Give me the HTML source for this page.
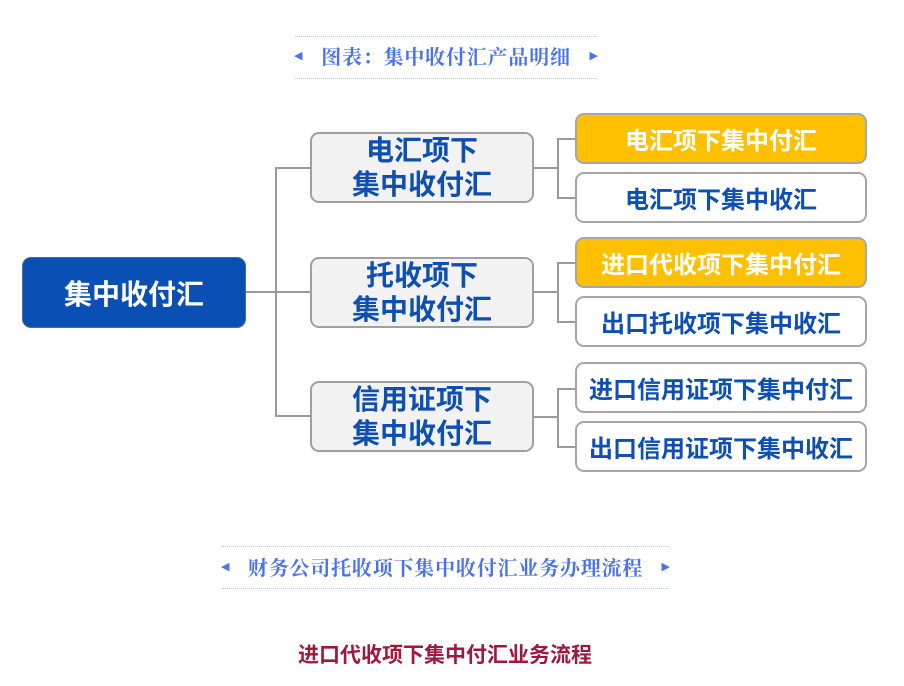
<!DOCTYPE html>
<html><head><meta charset="utf-8"><style>
body{margin:0;background:#fff;width:904px;height:686px;position:relative;overflow:hidden;font-family:"Liberation Sans","Noto Sans CJK SC",sans-serif}
.b{position:absolute;box-sizing:border-box;border-radius:9px;display:flex;align-items:center;justify-content:center;text-align:center;font-weight:bold;color:#0d4fb3}
.root{left:22px;top:257px;width:224px;height:71px;background:#0a4fb4;border:1px solid #4a6a9a;color:#fff;font-size:28px}
.mid{left:310px;width:224px;height:71px;background:#f2f2f2;border:2px solid #a0a0a0;font-size:28px;line-height:34px}
.leaf{left:575px;width:292px;height:51px;background:#fff;border:2px solid #a6a6a6;font-size:24px}
.gold{background:#ffc000;color:#fff}
.l{position:absolute;background:#9a9a9a}
.cap{position:absolute;font-family:"Liberation Serif","Noto Serif CJK SC",serif;font-weight:bold;color:#4a72ea;font-size:20px;letter-spacing:0.8px;display:flex;align-items:center;justify-content:space-between}
.dot{position:absolute;border-top:1px dotted #b8c4ee;height:0}
.tri{font-size:11px;color:#4a72ea;font-family:"DejaVu Sans",sans-serif;letter-spacing:0}
</style></head><body>
<div class="dot" style="left:295px;top:36px;width:301px"></div>
<div class="dot" style="left:295px;top:78px;width:301px"></div>
<div class="cap" style="left:294px;top:43px;width:304px;height:24px"><span class="tri">◀</span><span>图表：集中收付汇产品明细</span><span class="tri">▶</span></div>

<div class="l" style="left:245px;top:291px;width:65px;height:2px"></div>
<div class="l" style="left:275px;top:167px;width:2px;height:250px"></div>
<div class="l" style="left:275px;top:167px;width:35px;height:2px"></div>
<div class="l" style="left:275px;top:415px;width:35px;height:2px"></div>

<div class="l" style="left:533px;top:167px;width:25px;height:2px"></div>
<div class="l" style="left:557px;top:138px;width:2px;height:61px"></div>
<div class="l" style="left:557px;top:138px;width:18px;height:2px"></div>
<div class="l" style="left:557px;top:197px;width:18px;height:2px"></div>

<div class="l" style="left:533px;top:291px;width:25px;height:2px"></div>
<div class="l" style="left:557px;top:262px;width:2px;height:61px"></div>
<div class="l" style="left:557px;top:262px;width:18px;height:2px"></div>
<div class="l" style="left:557px;top:321px;width:18px;height:2px"></div>

<div class="l" style="left:533px;top:416px;width:25px;height:2px"></div>
<div class="l" style="left:557px;top:388px;width:2px;height:60px"></div>
<div class="l" style="left:557px;top:388px;width:18px;height:2px"></div>
<div class="l" style="left:557px;top:446px;width:18px;height:2px"></div>

<div class="b root">集中收付汇</div>
<div class="b mid" style="top:132px">电汇项下<br>集中收付汇</div>
<div class="b mid" style="top:257px">托收项下<br>集中收付汇</div>
<div class="b mid" style="top:381px">信用证项下<br>集中收付汇</div>

<div class="b leaf gold" style="top:113px">电汇项下集中付汇</div>
<div class="b leaf" style="top:172px">电汇项下集中收汇</div>
<div class="b leaf gold" style="top:237px">进口代收项下集中付汇</div>
<div class="b leaf" style="top:296px">出口托收项下集中收汇</div>
<div class="b leaf" style="top:362px">进口信用证项下集中付汇</div>
<div class="b leaf" style="top:421px">出口信用证项下集中收汇</div>

<div class="dot" style="left:222px;top:546px;width:446px"></div>
<div class="dot" style="left:222px;top:588px;width:446px"></div>
<div class="cap" style="left:221px;top:554px;width:449px;height:24px"><span class="tri">◀</span><span>财务公司托收项下集中收付汇业务办理流程</span><span class="tri">▶</span></div>

<div style="position:absolute;left:0;width:890px;top:639px;text-align:center;color:#a0183c;font-weight:bold;font-size:21px;font-family:'Liberation Sans','Noto Sans CJK SC',sans-serif">进口代收项下集中付汇业务流程</div>
</body></html>
